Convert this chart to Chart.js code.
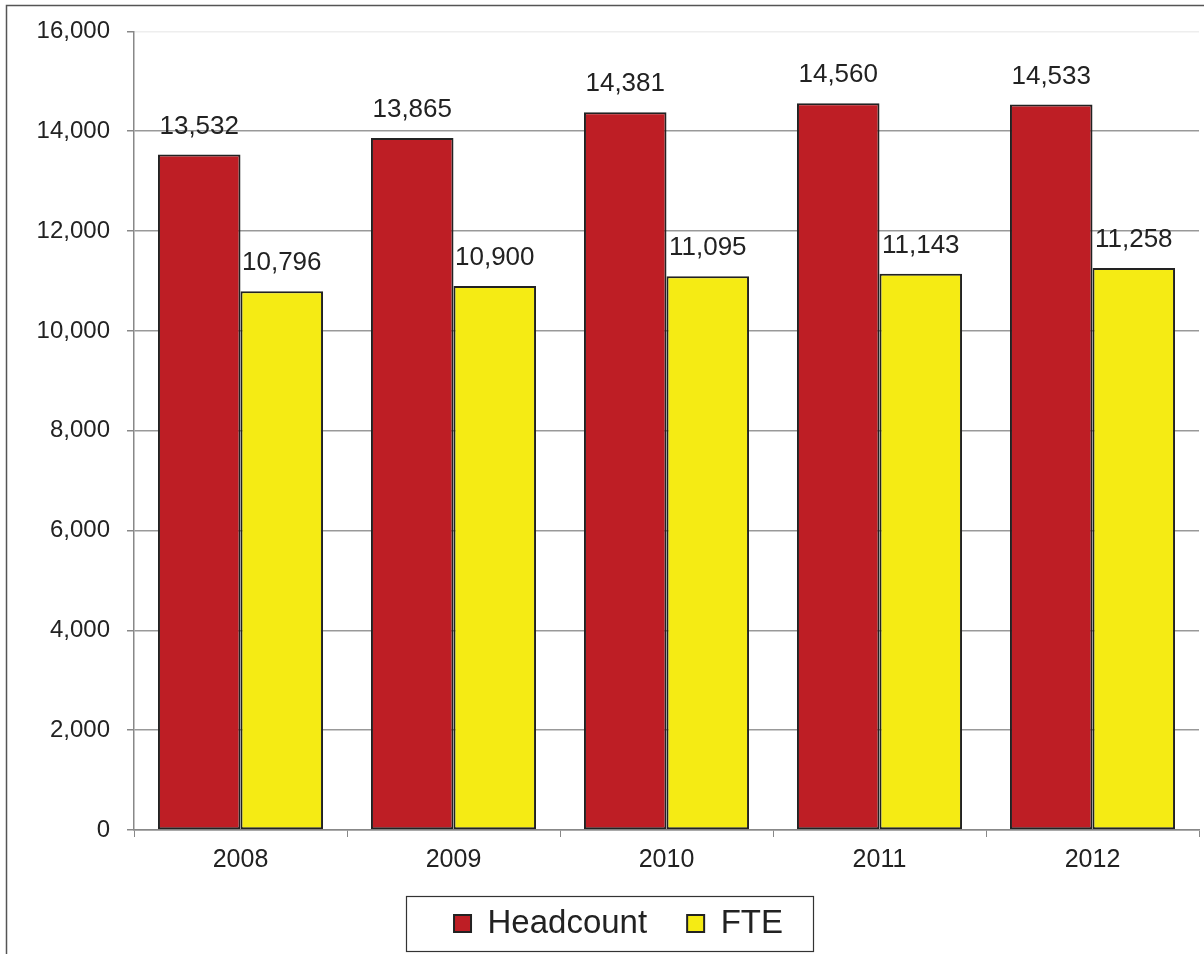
<!DOCTYPE html>
<html>
<head>
<meta charset="utf-8">
<script src="https://cdn.jsdelivr.net/npm/chart.js@4.4.1/dist/chart.umd.min.js"></script>
<style>
  html, body { margin: 0; padding: 0; background: #fff; }
  #wrap { width: 1204px; height: 954px; position: relative; }
</style>
</head>
<body>
<div id="wrap"><canvas id="grafico" width="1204" height="954"></canvas></div>
<script>
// dados
const anos = ['2008', '2009', '2010', '2011', '2012'];
const headcount = [13532, 13865, 14381, 14560, 14533];
const fte = [10796, 10900, 11095, 11143, 11258];
const yTicks = [0, 2000, 4000, 6000, 8000, 10000, 12000, 14000, 16000];

const fonte = "'Liberation Sans', Arial, sans-serif";
const fmt = v => v.toLocaleString('en-US');

// rótulos em cima das barras
const rotulos = {
    id: 'rotulos',
    afterDatasetsDraw(chart) {
        const ctx = chart.ctx;
        ctx.save();
        ctx.font = '26px ' + fonte;
        ctx.fillStyle = '#222';
        ctx.textAlign = 'center';
        ctx.textBaseline = 'middle';
        chart.data.datasets.forEach((ds, i) => {
            chart.getDatasetMeta(i).data.forEach((bar, j) => {
                ctx.fillText(fmt(ds.data[j]), bar.x, bar.y - 28);
            });
        });
        ctx.restore();
    }
};

// moldura externa + caixa da legenda
const moldura = {
    id: 'moldura',
    afterDraw(chart) {
        const ctx = chart.ctx;
        ctx.save();
        ctx.strokeStyle = '#555';
        ctx.lineWidth = 1.5;
        ctx.beginPath();
        ctx.moveTo(6.5, 954);
        ctx.lineTo(6.5, 5.5);
        ctx.lineTo(1204, 5.5);
        ctx.stroke();

        const lg = chart.legend;
        if (lg && lg.legendHitBoxes.length) {
            const hb = lg.legendHitBoxes;
            const x1 = hb[0].left - 48;
            const x2 = hb[hb.length - 1].left + hb[hb.length - 1].width + 30;
            const cy = hb[0].top + hb[0].height / 2;
            ctx.strokeStyle = '#333';
            ctx.lineWidth = 1.2;
            ctx.strokeRect(Math.round(x1) + 0.5, Math.round(cy - 27.5) + 0.5, Math.round(x2 - x1), 55);
        }
        ctx.restore();
    }
};

window.onload = () => {
    const ctx = document.getElementById('grafico').getContext('2d');

    new Chart(ctx, {
        type: 'bar',
        data: {
            labels: anos,
            datasets: [{
                label: 'Headcount',
                data: headcount,
                backgroundColor: '#BE1E25',
                borderColor: '#222',
                borderWidth: 2,
                borderSkipped: false
            }, {
                label: 'FTE',
                data: fte,
                backgroundColor: '#F5EB14',
                borderColor: '#222',
                borderWidth: 2,
                borderSkipped: false
            }]
        },
        options: {
            responsive: false,
            animation: false,
            devicePixelRatio: 1,
            layout: { padding: { left: 38, right: 5, top: 27, bottom: 4 } },
            datasets: {
                bar: { categoryPercentage: 0.775, barPercentage: 1.0 }
            },
            scales: {
                x: {
                    grid: {
                        display: true,
                        drawOnChartArea: false,
                        drawTicks: true,
                        tickLength: 7,
                        color: '#888'
                    },
                    border: { color: '#888', width: 1.5 },
                    ticks: {
                        color: '#222',
                        font: { family: fonte, size: 25 },
                        padding: 8
                    },
                    afterFit: s => { s.height = 37; }
                },
                y: {
                    min: 0,
                    max: 16000,
                    afterBuildTicks: s => { s.ticks = yTicks.map(v => ({ value: v })); },
                    grid: {
                        color: c => c.tick && c.tick.value === 16000 ? '#eee' : '#999',
                        lineWidth: 1.5,
                        tickLength: 7,
                        tickColor: '#888'
                    },
                    border: { color: '#888', width: 1.5 },
                    ticks: {
                        color: '#222',
                        font: { family: fonte, size: 24 },
                        padding: 17,
                        callback: v => fmt(v)
                    },
                    afterFit: s => { s.width = 96; }
                }
            },
            plugins: {
                legend: {
                    position: 'bottom',
                    labels: {
                        color: '#222',
                        font: { family: fonte, size: 33 },
                        boxWidth: 17,
                        boxHeight: 17,
                        padding: 40,
                        useBorderRadius: false
                    }
                },
                tooltip: { enabled: false }
            }
        },
        plugins: [rotulos, moldura]
    });
};
</script>
</body>
</html>
